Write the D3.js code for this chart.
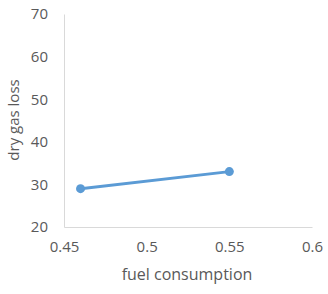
<!DOCTYPE html>
<html><head><meta charset="utf-8">
<script src="https://cdn.jsdelivr.net/npm/d3@7"></script>
<style>body{margin:0;background:#fff;}svg{display:block;font-family:"Open Sans","Noto Sans",sans-serif;}</style>
</head><body>
<script>
const xValues = [0.46, 0.55];
const yValues = [29, 33];
const xTicks = [0.45, 0.5, 0.55, 0.6];
const yTicks = [20, 30, 40, 50, 60, 70];
const xTitle = "fuel consumption";
const yTitle = "dry gas loss";

const W = 328, H = 294;
const m = {left: 64, right: 16, top: 14, bottom: 67};
const svg = d3.select("body").append("svg").attr("width", W).attr("height", H);
const x = d3.scaleLinear().domain([0.45, 0.6]).range([m.left, W - m.right]);
const y = d3.scaleLinear().domain([20, 70]).range([H - m.bottom, m.top]);

const xAxis = svg.append("g").attr("transform", `translate(0,${H - m.bottom})`)
  .call(d3.axisBottom(x).tickValues(xTicks).tickSize(0).tickPadding(14).tickFormat(d => String(d)));
const yAxis = svg.append("g").attr("transform", `translate(${m.left},0)`)
  .call(d3.axisLeft(y).tickValues(yTicks).tickSize(0).tickPadding(16));
[xAxis, yAxis].forEach(a => {
  a.select(".domain").attr("stroke", "#d9d9d9").attr("stroke-width", 1);
  a.selectAll("text").attr("fill", "#595959").attr("font-size", 15).attr("font-family", "'Open Sans','Noto Sans',sans-serif");
});

svg.append("text").attr("x", 187).attr("y", 280).attr("text-anchor", "middle")
  .attr("fill", "#595959").attr("font-size", 16).text(xTitle);
svg.append("text").attr("transform", "translate(19,120) rotate(-90)").attr("text-anchor", "middle")
  .attr("fill", "#595959").attr("font-size", 15).text(yTitle);

const pts = xValues.map((v, i) => [v, yValues[i]]);
svg.append("path").datum(pts)
  .attr("d", d3.line().x(d => x(d[0])).y(d => y(d[1])))
  .attr("fill", "none").attr("stroke", "#5b9bd5").attr("stroke-width", 3).attr("stroke-linecap", "round");
svg.selectAll("circle.pt").data(pts).enter().append("circle")
  .attr("cx", d => x(d[0])).attr("cy", d => y(d[1])).attr("r", 4.5).attr("fill", "#5b9bd5");
</script>
</body></html>
